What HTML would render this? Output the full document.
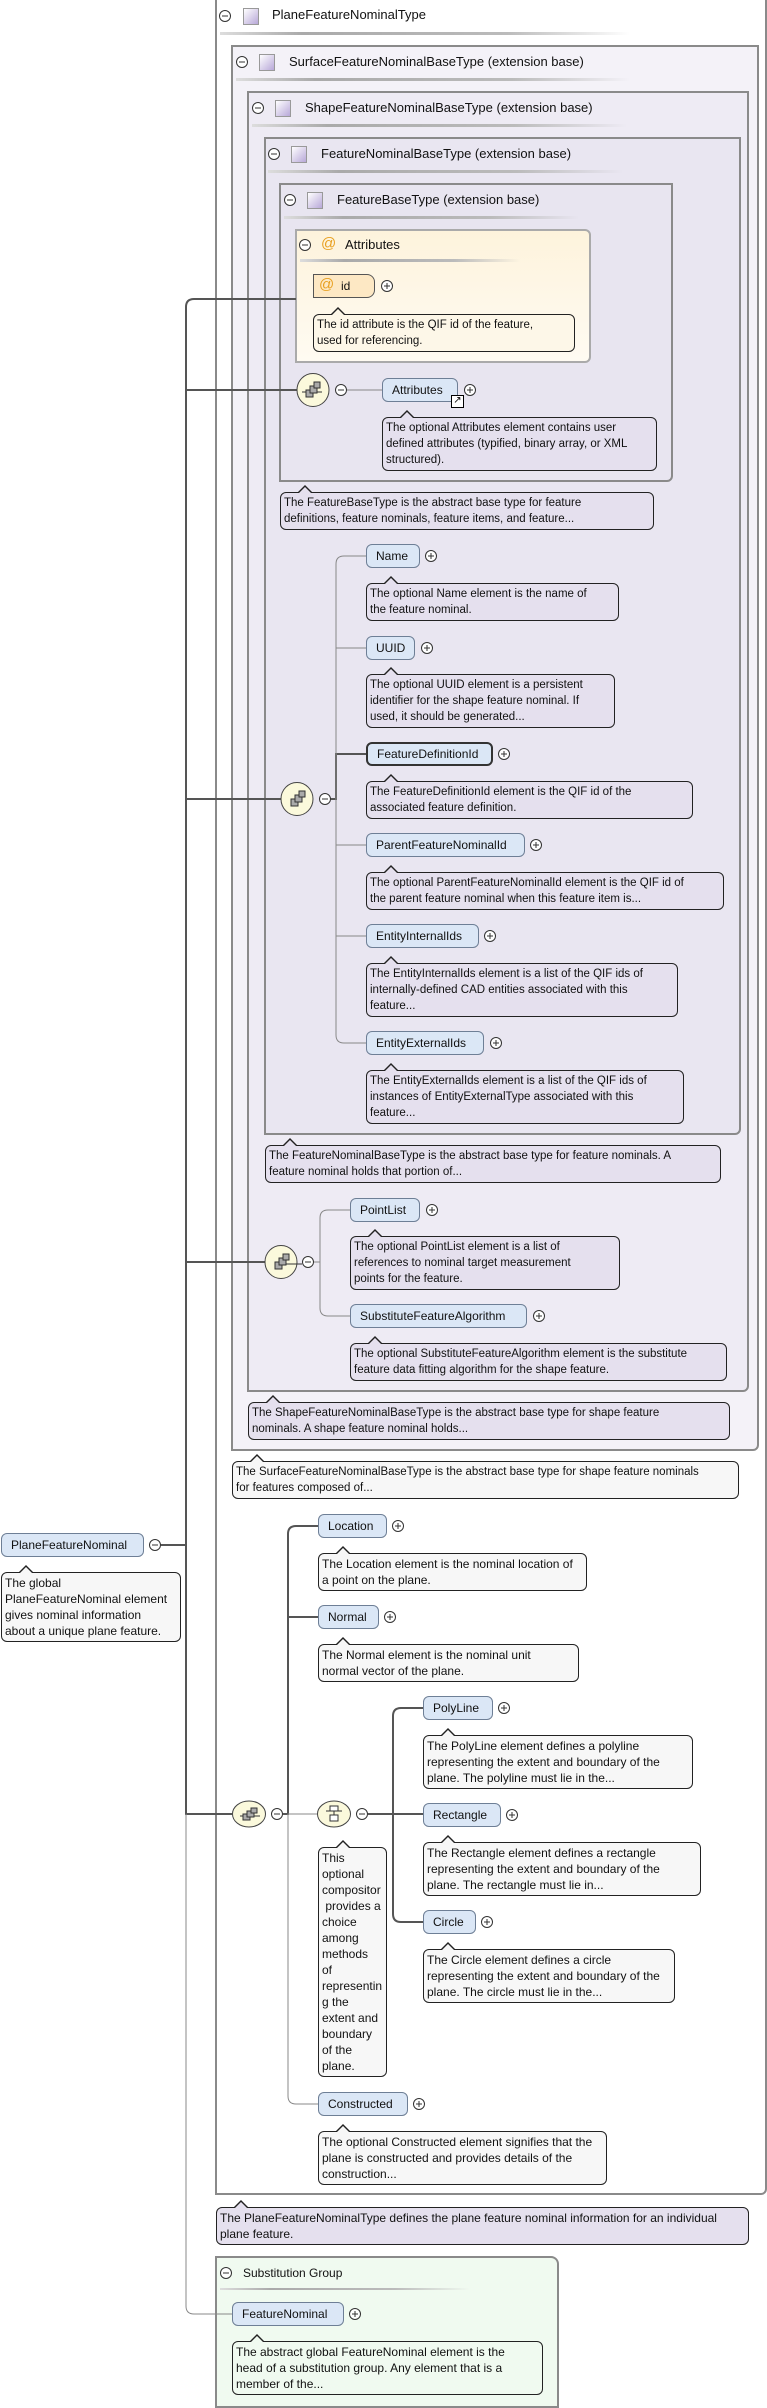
<!DOCTYPE html>
<html><head><meta charset="utf-8"><style>
body{margin:0;width:767px;height:2406px;position:relative;background:#fff;font-family:"Liberation Sans",sans-serif;overflow:hidden}
.box{position:absolute;border:2px solid #8a8a8a;border-radius:0 0 6px 0;box-sizing:border-box}
.title{position:absolute;font-size:13px;color:#111;white-space:nowrap}
.sep{position:absolute;height:3px;background:linear-gradient(to right,#ddd,#aaa 20%,#bbb 70%,rgba(255,255,255,0))}
.sq{position:absolute;width:14px;height:15px;border:1px solid #999;background:linear-gradient(135deg,#fff,#b8a8d8)}
.node{position:absolute;height:24px;box-sizing:border-box;border:1px solid #6e7f96;border-radius:6px;background:#dbe7f6;font-size:12px;line-height:22px;padding-left:9px;white-space:nowrap;color:#111}
.node.b{border:2px solid #333;line-height:20px}
.doc{position:absolute;box-sizing:border-box;border:1px solid #222;border-radius:6px;background:var(--bg,#e5e0ee);font-size:11.5px;line-height:16px;padding:2px 3px;white-space:nowrap;color:#111}
.doc::before{content:"";position:absolute;left:16px;top:-8px;border:8px solid transparent;border-top:0;border-bottom-color:#222}
.doc::after{content:"";position:absolute;left:17px;top:-6px;border:7px solid transparent;border-top:0;border-bottom-color:var(--bg,#e5e0ee)}
.w{--bg:#f7f7f7}
.lo{font-size:12px}
</style></head><body>

<!-- outer -->
<div class="box" style="left:215px;top:-2px;width:552px;height:2197px;background:#fff"></div>
<div class="title" style="left:272px;top:7px">PlaneFeatureNominalType</div>
<div class="sq" style="left:243px;top:8px"></div>
<div class="sep" style="left:220px;top:32px;width:410px"></div>

<div class="box" style="left:231px;top:45px;width:528px;height:1406px;background:#f4f2f8"></div>
<div class="title" style="left:289px;top:54px">SurfaceFeatureNominalBaseType (extension base)</div>
<div class="sq" style="left:259px;top:54px"></div>
<div class="sep" style="left:236px;top:78px;width:394px"></div>

<div class="box" style="left:247px;top:91px;width:502px;height:1301px;background:#eeebf4"></div>
<div class="title" style="left:305px;top:100px">ShapeFeatureNominalBaseType (extension base)</div>
<div class="sq" style="left:275px;top:100px"></div>
<div class="sep" style="left:252px;top:124px;width:375px"></div>

<div class="box" style="left:264px;top:137px;width:477px;height:998px;background:#e9e6f1"></div>
<div class="title" style="left:321px;top:146px">FeatureNominalBaseType (extension base)</div>
<div class="sq" style="left:291px;top:146px"></div>
<div class="sep" style="left:268px;top:170px;width:355px"></div>

<div class="box" style="left:279px;top:183px;width:394px;height:299px;background:#e8e5f0"></div>
<div class="title" style="left:337px;top:192px">FeatureBaseType (extension base)</div>
<div class="sq" style="left:307px;top:192px"></div>
<div class="sep" style="left:284px;top:216px;width:295px"></div>

<div class="box" style="left:295px;top:229px;width:296px;height:134px;background:linear-gradient(#fdf3dc,#fffbf2);border-color:#aaa;border-radius:0 6px 6px 0"></div>
<div class="title" style="left:345px;top:237px;font-size:13px">Attributes</div>
<div style="position:absolute;left:321px;top:235px;color:#e8a020;font-size:15px">@</div>
<div class="sep" style="left:300px;top:259px;width:220px"></div>
<div class="node" style="left:313px;top:274px;width:62px;background:#fde8c4;border-color:#555;border-radius:0 8px 8px 0;padding-left:27px">id</div>
<div style="position:absolute;left:319px;top:276px;color:#e8a020;font-size:15px">@</div>
<div class="doc" style="left:313px;top:314px;width:262px;--bg:#fdf7e8">The id attribute is the QIF id of the feature,<br>used for referencing.</div>

<div class="node" style="left:382px;top:378px;width:76px">Attributes</div>
<div style="position:absolute;left:451px;top:395px;width:11px;height:11px;border:1px solid #000;background:#fff;font-size:10px;line-height:10px;text-align:center">↗</div>
<div class="doc" style="left:382px;top:417px;width:275px">The optional Attributes element contains user<br>defined attributes (typified, binary array, or XML<br>structured).</div>
<div class="doc" style="left:280px;top:492px;width:374px">The FeatureBaseType is the abstract base type for feature<br>definitions, feature nominals, feature items, and feature...</div>

<div class="node" style="left:366px;top:544px;width:54px">Name</div>
<div class="doc" style="left:366px;top:583px;width:253px">The optional Name element is the name of<br>the feature nominal.</div>
<div class="node" style="left:366px;top:636px;width:49px">UUID</div>
<div class="doc" style="left:366px;top:674px;width:249px">The optional UUID element is a persistent<br>identifier for the shape feature nominal. If<br>used, it should be generated...</div>
<div class="node b" style="left:366px;top:742px;width:127px">FeatureDefinitionId</div>
<div class="doc" style="left:366px;top:781px;width:327px">The FeatureDefinitionId element is the QIF id of the<br>associated feature definition.</div>
<div class="node" style="left:366px;top:833px;width:159px">ParentFeatureNominalId</div>
<div class="doc" style="left:366px;top:872px;width:358px">The optional ParentFeatureNominalId element is the QIF id of<br>the parent feature nominal when this feature item is...</div>
<div class="node" style="left:366px;top:924px;width:113px">EntityInternalIds</div>
<div class="doc" style="left:366px;top:963px;width:312px">The EntityInternalIds element is a list of the QIF ids of<br>internally-defined CAD entities associated with this<br>feature...</div>
<div class="node" style="left:366px;top:1031px;width:118px">EntityExternalIds</div>
<div class="doc" style="left:366px;top:1070px;width:318px">The EntityExternalIds element is a list of the QIF ids of<br>instances of EntityExternalType associated with this<br>feature...</div>

<div class="doc" style="left:265px;top:1145px;width:456px">The FeatureNominalBaseType is the abstract base type for feature nominals. A<br>feature nominal holds that portion of...</div>
<div class="node" style="left:350px;top:1198px;width:70px">PointList</div>
<div class="doc" style="left:350px;top:1236px;width:270px">The optional PointList element is a list of<br>references to nominal target measurement<br>points for the feature.</div>
<div class="node" style="left:350px;top:1304px;width:177px">SubstituteFeatureAlgorithm</div>
<div class="doc" style="left:350px;top:1343px;width:377px">The optional SubstituteFeatureAlgorithm element is the substitute<br>feature data fitting algorithm for the shape feature.</div>
<div class="doc" style="left:248px;top:1402px;width:482px">The ShapeFeatureNominalBaseType is the abstract base type for shape feature<br>nominals. A shape feature nominal holds...</div>
<div class="doc w" style="left:232px;top:1461px;width:507px">The SurfaceFeatureNominalBaseType is the abstract base type for shape feature nominals<br>for features composed of...</div>

<!-- lower -->
<div class="node" style="left:1px;top:1533px;width:143px">PlaneFeatureNominal</div>
<div class="doc w lo" style="left:1px;top:1572px;width:180px;line-height:16px">The global<br>PlaneFeatureNominal element<br>gives nominal information<br>about a unique plane feature.</div>
<div class="node" style="left:318px;top:1514px;width:69px">Location</div>
<div class="doc w lo" style="left:318px;top:1553px;width:269px">The Location element is the nominal location of<br>a point on the plane.</div>
<div class="node" style="left:318px;top:1605px;width:61px">Normal</div>
<div class="doc w lo" style="left:318px;top:1644px;width:261px">The Normal element is the nominal unit<br>normal vector of the plane.</div>
<div class="node" style="left:423px;top:1696px;width:70px">PolyLine</div>
<div class="doc w lo" style="left:423px;top:1735px;width:270px">The PolyLine element defines a polyline<br>representing the extent and boundary of the<br>plane. The polyline must lie in the...</div>
<div class="node" style="left:423px;top:1803px;width:78px">Rectangle</div>
<div class="doc w lo" style="left:423px;top:1842px;width:278px">The Rectangle element defines a rectangle<br>representing the extent and boundary of the<br>plane. The rectangle must lie in...</div>
<div class="node" style="left:423px;top:1910px;width:53px">Circle</div>
<div class="doc w lo" style="left:423px;top:1949px;width:252px">The Circle element defines a circle<br>representing the extent and boundary of the<br>plane. The circle must lie in the...</div>
<div class="doc w lo" style="left:318px;top:1847px;width:69px;line-height:16px">This<br>optional<br>compositor<br>&nbsp;provides a<br>choice<br>among<br>methods<br>of<br>representin<br>g the<br>extent and<br>boundary<br>of the<br>plane.</div>
<div class="node" style="left:318px;top:2092px;width:90px">Constructed</div>
<div class="doc w lo" style="left:318px;top:2131px;width:289px">The optional Constructed element signifies that the<br>plane is constructed and provides details of the<br>construction...</div>
<div class="doc lo" style="left:216px;top:2207px;width:533px">The PlaneFeatureNominalType defines the plane feature nominal information for an individual<br>plane feature.</div>

<div class="box" style="left:215px;top:2256px;width:344px;height:152px;background:#f0faf0;border-radius:0 8px 0 0"></div>
<div class="title" style="left:243px;top:2266px;font-size:12px">Substitution Group</div>
<div class="sep" style="left:220px;top:2288px;width:250px;height:2px"></div>
<div class="node" style="left:232px;top:2302px;width:112px">FeatureNominal</div>
<div class="doc lo" style="left:232px;top:2341px;width:311px;--bg:#f0faf0">The abstract global FeatureNominal element is the<br>head of a substitution group. Any element that is a<br>member of the...</div>

<svg width="767" height="2406" style="position:absolute;left:0;top:0" fill="none">
<g stroke="#555" stroke-width="2">
<path d="M296,299 H194 Q186,299 186,307 V1814 H232"/>
<path d="M186,390 H297 M186,799 H281 M186,1262 H265 M161,1545 H186"/>
<path d="M331,799 H336 V754 H366"/>
<path d="M283,1814 H288 V1534 Q288,1526 296,1526 H318 M288,1617 H318"/>
<path d="M368,1814 H423 M423,1708 H401 Q393,1708 393,1716 V1914 Q393,1922 401,1922 H423"/>
</g>
<g stroke="#888" stroke-width="1">
<path d="M186,1814 V2306 Q186,2314 194,2314 H232"/>
<path d="M347,390 H382"/>
<path d="M366,556 H344 Q336,556 336,564 V1035 Q336,1043 344,1043 H366 M336,648 H366 M336,845 H366 M336,936 H366"/>
<path d="M314,1262 H320 M350,1210 H328 Q320,1210 320,1218 V1308 Q320,1316 328,1316 H350"/>
<path d="M288,1814 V2096 Q288,2104 296,2104 H318 M288,1814 H318"/>
</g>
<g stroke="#333" stroke-width="1" fill="#fff">
<circle cx="225" cy="16" r="5.5"/><circle cx="242" cy="62" r="5.5"/><circle cx="258" cy="108" r="5.5"/><circle cx="274" cy="154" r="5.5"/><circle cx="290" cy="200" r="5.5"/><circle cx="305" cy="245" r="5.5"/>
<circle cx="341" cy="390" r="5.5"/><circle cx="325" cy="799" r="5.5"/><circle cx="308" cy="1262" r="5.5"/><circle cx="155" cy="1545" r="5.5"/><circle cx="277" cy="1814" r="5.5"/><circle cx="362" cy="1814" r="5.5"/><circle cx="226" cy="2273" r="5.5"/>
<path d="M222,16h6M239,62h6M255,108h6M271,154h6M287,200h6M302,245h6M338,390h6M322,799h6M305,1262h6M152,1545h6M274,1814h6M359,1814h6M223,2273h6"/>
<g>
<circle cx="387" cy="286" r="5.5"/><circle cx="470" cy="390" r="5.5"/><circle cx="431" cy="556" r="5.5"/><circle cx="427" cy="648" r="5.5"/><circle cx="504" cy="754" r="5.5"/><circle cx="536" cy="845" r="5.5"/><circle cx="490" cy="936" r="5.5"/><circle cx="496" cy="1043" r="5.5"/><circle cx="432" cy="1210" r="5.5"/><circle cx="539" cy="1316" r="5.5"/><circle cx="398" cy="1526" r="5.5"/><circle cx="390" cy="1617" r="5.5"/><circle cx="504" cy="1708" r="5.5"/><circle cx="512" cy="1815" r="5.5"/><circle cx="487" cy="1922" r="5.5"/><circle cx="419" cy="2104" r="5.5"/><circle cx="355" cy="2314" r="5.5"/>
</g>
<path d="M384,286h6M387,283v6M467,390h6M470,387v6M428,556h6M431,553v6M424,648h6M427,645v6M501,754h6M504,751v6M533,845h6M536,842v6M487,936h6M490,933v6M493,1043h6M496,1040v6M429,1210h6M432,1207v6M536,1316h6M539,1313v6M395,1526h6M398,1523v6M387,1617h6M390,1614v6M501,1708h6M504,1705v6M509,1815h6M512,1812v6M484,1922h6M487,1919v6M416,2104h6M419,2101v6M352,2314h6M355,2311v6"/>
</g>
<g stroke="#444" stroke-width="1" fill="#fbf9dc">
<ellipse cx="313" cy="390" rx="16" ry="16.5"/><ellipse cx="297" cy="799" rx="16" ry="16.5"/><ellipse cx="281" cy="1262" rx="16" ry="16.5"/><ellipse cx="249" cy="1814" rx="16.5" ry="13"/><ellipse cx="334" cy="1814" rx="16.5" ry="13"/>
</g>
<g stroke="#333" stroke-width="1" fill="#aaa">
<path d="M302,392h20M282,1264h20M240,1816h20"/>
<rect x="306" y="390" width="7" height="7"/><rect x="310" y="386" width="7" height="7"/><rect x="314" y="382" width="6" height="6"/>
<rect x="291" y="799" width="7" height="7"/><rect x="295" y="795" width="7" height="7"/><rect x="299" y="791" width="6" height="6"/>
<rect x="275" y="1262" width="7" height="7"/><rect x="279" y="1258" width="7" height="7"/><rect x="283" y="1254" width="6" height="6"/>
<rect x="243" y="1814" width="7" height="6"/><rect x="247" y="1811" width="7" height="6"/><rect x="251" y="1808" width="6" height="5"/>
<path d="M326,1811h16M334,1806v15" fill="none"/><rect x="330" y="1806" width="8" height="5" fill="#fff"/><rect x="330" y="1815" width="8" height="6" fill="#fff"/>
</g>
</svg>
</body></html>
